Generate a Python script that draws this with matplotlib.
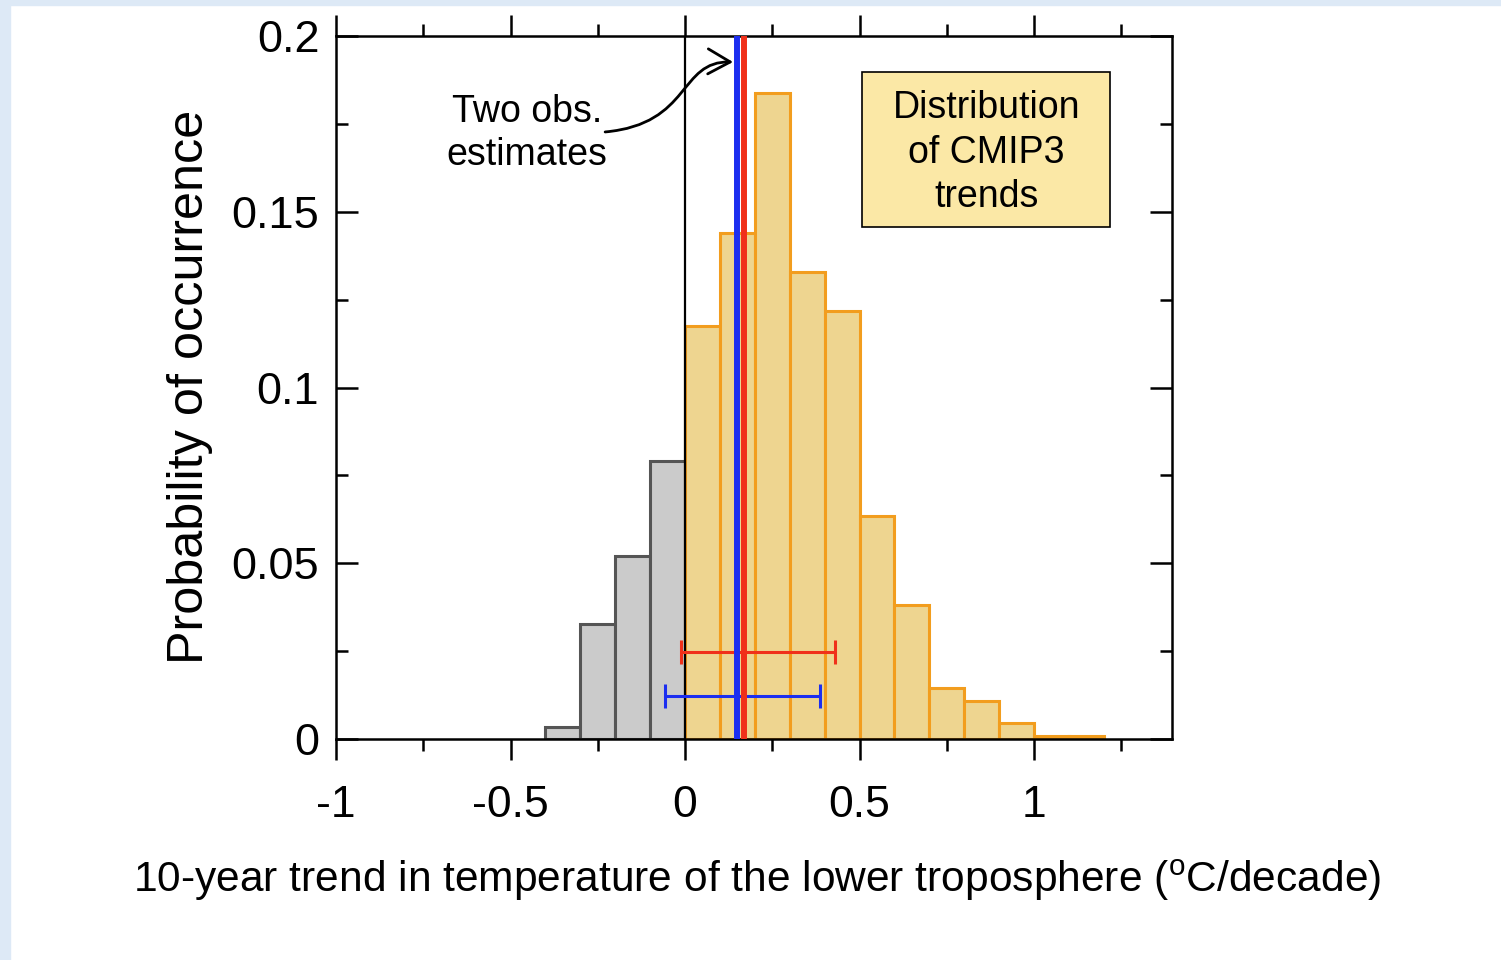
import numpy as np
import matplotlib
matplotlib.use('Agg')
import matplotlib.pyplot as plt
from matplotlib.patches import Rectangle, FancyArrowPatch
from matplotlib.path import Path

plt.rcParams['font.family'] = ['Liberation Sans', 'DejaVu Sans']
plt.rcParams['mathtext.fontset'] = 'custom'
plt.rcParams['mathtext.rm'] = 'Liberation Sans'

# histogram of CMIP3 10-year trends (bin left edges, width 0.1)
neg_edges = [-0.4, -0.3, -0.2, -0.1]
neg_prob = [0.0034, 0.0327, 0.0521, 0.0791]
pos_edges = [0.0, 0.1, 0.2, 0.3, 0.4, 0.5, 0.6, 0.7, 0.8, 0.9, 1.0, 1.1]
pos_prob = [0.1175, 0.1440, 0.1838, 0.1329, 0.1218, 0.0634, 0.0381, 0.0145,
            0.0108, 0.0046, 0.0009, 0.0009]
bin_width = 0.1

# two observational estimates (trend, 5-95% range, height of range bar)
obs_names = ['blue', 'red']
obs_trend = [0.149, 0.169]
obs_low = [-0.057, -0.011]
obs_high = [0.387, 0.430]
obs_bar_y = [0.0122, 0.0248]
obs_colors = ['#1c2ef0', '#f0301a']

xticks = [-1, -0.5, 0, 0.5, 1]
xticklabels = ['-1', '-0.5', '0', '0.5', '1']
yticks = [0, 0.05, 0.1, 0.15, 0.2]
yticklabels = ['0', '0.05', '0.1', '0.15', '0.2']

fig = plt.figure(figsize=(15.01, 9.6), dpi=100)
# light blue slide frame
fig.patches.append(Rectangle((0, 0), 10/1501, 1, transform=fig.transFigure,
                             color='#dde9f6', zorder=-10))
fig.patches.append(Rectangle((0, 1 - 5/960), 1, 5/960, transform=fig.transFigure,
                             color='#dde9f6', zorder=-10))

ax = fig.add_axes([336/1501, 1 - 739/960, 836/1501, 703/960])

ax.bar(neg_edges, neg_prob, width=bin_width, align='edge', color='#cbcbcb',
       edgecolor='#555555', linewidth=2.2, zorder=2)
ax.bar(pos_edges, pos_prob, width=bin_width, align='edge', color='#eed590',
       edgecolor='#f29d1e', linewidth=2.2, zorder=2)

ax.axvline(0, color='black', lw=1.6, zorder=3)

for t, lo, hi, yb, c in zip(obs_trend, obs_low, obs_high, obs_bar_y, obs_colors):
    ax.errorbar([t], [yb], xerr=[[t - lo], [hi - t]], fmt='none', ecolor=c,
                elinewidth=2.2, capsize=8.5, capthick=2.2, zorder=4)
for t, c in zip(obs_trend, obs_colors):
    ax.axvline(t, color=c, lw=4.3, zorder=5)

ax.set_xlim(-1, 1.395)
ax.set_ylim(0, 0.2)
ax.set_xticks(xticks)
ax.set_xticklabels(xticklabels)
ax.set_xticks(np.arange(-1, 1.3, 0.25), minor=True)
ax.set_yticks(yticks)
ax.set_yticklabels(yticklabels)
ax.set_yticks(np.arange(0, 0.2001, 0.025), minor=True)

for s in ax.spines.values():
    s.set_linewidth(1.8)
ax.tick_params(axis='x', which='both', direction='out', top=True, width=1.8,
               labelsize=32, pad=18)
ax.tick_params(axis='x', which='major', length=15)
ax.tick_params(axis='x', which='minor', length=8.5)
ax.tick_params(axis='y', which='both', direction='in', right=True, width=1.8,
               labelsize=32.5, pad=12)
ax.tick_params(axis='y', which='major', length=16)
ax.tick_params(axis='y', which='minor', length=8.5)

# label box
ax.add_patch(Rectangle((0.507, 0.1457), 0.711, 0.0441, facecolor='#fbe8a6',
                       edgecolor='black', lw=1.2, zorder=6))
ax.text(0.8625, 0.1668, 'Distribution\nof CMIP3\ntrends', ha='center',
        va='center', fontsize=27, linespacing=1.3, zorder=7)

ax.text(-0.453, 0.1722, 'Two obs.\nestimates', ha='center', va='center',
        fontsize=27, linespacing=1.25, zorder=7)
curve = Path([(-0.229, 0.1727), (0.02, 0.175), (-0.02, 0.193), (0.1375, 0.1926)],
             [Path.MOVETO, Path.CURVE4, Path.CURVE4, Path.CURVE4])
ax.add_patch(FancyArrowPatch(path=curve, arrowstyle='->,head_length=0.8,head_width=0.45',
                             mutation_scale=20, lw=2.0, color='black', zorder=7))

fig.text(190/1501, 1 - 387/960, 'Probability of occurrence', rotation=90,
         ha='center', va='center', fontsize=36.3)
fig.text(757/1501, 1 - 880/960,
         r'10-year trend in temperature of the lower troposphere ($^{\rm o}$C/decade)',
         ha='center', va='center', fontsize=30.6)

fig.savefig('out.png', dpi=100)
